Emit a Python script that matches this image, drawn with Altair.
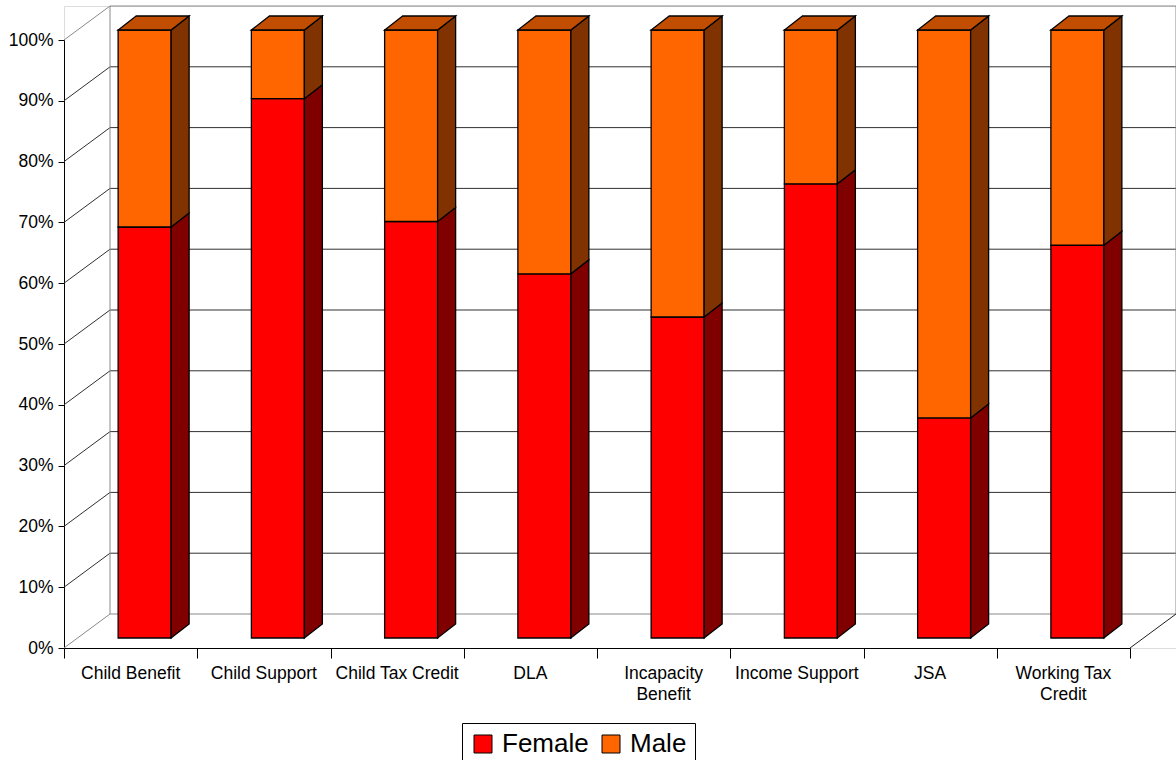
import altair as alt
import pandas as pd

# ---- data -------------------------------------------------------------
categories = ["Child Benefit", "Child Support", "Child Tax Credit", "DLA",
              "Incapacity\nBenefit", "Income Support", "JSA", "Working Tax\nCredit"]
female = [67.6, 88.7, 68.5, 59.9, 52.8, 74.7, 36.2, 64.6]
male = [32.4, 11.3, 31.5, 40.1, 47.2, 25.3, 63.8, 35.4]
series = ["Female", "Male"]
y_ticks = list(range(0, 101, 10))

# ---- styling ----------------------------------------------------------
front_colors = ["#FF0000", "#FF6600"]
side_colors = ["#800000", "#803300"]
top_colors = ["#BF0000", "#C04D00"]
FONT = "Liberation Sans"

# ---- 3-D layout (pixels) -------------------------------------------------
FRONT_W, FRONT_H = 1066, 608      # front plane of the axes
WALL_DX, WALL_DY = 46, 34         # depth of the walls / floor
BAR_DX, BAR_DY = 14, 10           # bar front plane behind the axis plane
BAR_DEPTH_X, BAR_DEPTH_Y = 18, 14 # bar thickness in depth
BAR_W = 53
VIEW_W, VIEW_H = FRONT_W + WALL_DX, FRONT_H + WALL_DY

n = len(categories)
px_x = FRONT_W / n
px_y = FRONT_H / 100.0


def ux(px):
    return px / px_x


def uy(px):
    return px / px_y


xscale = alt.Scale(domain=[0, n], range=[0, FRONT_W], nice=False, zero=False)
yscale = alt.Scale(domain=[0, 100], range=[VIEW_H, VIEW_H - FRONT_H], nice=False, zero=False)

# shared axes, given identically to every layer
x_axis = alt.Axis(values=list(range(n + 1)), labels=False, tickSize=10, title=None,
                  grid=False, domainColor="black", tickColor="black")
y_axis = alt.Axis(values=y_ticks, labelExpr="datum.value + '%'", tickSize=6, title=None,
                  grid=False, domainColor="black", tickColor="black",
                  labelFontSize=17.5, labelFont=FONT, labelColor="black",
                  labelPadding=5)

# ---- walls, floor and gridlines ------------------------------------------
EDGE = "#8a8a8a"
GRID = "#303030"
walls = []
for v in y_ticks:
    col = EDGE if v in (0, 100) else GRID
    # back wall gridline
    walls.append(dict(x=ux(WALL_DX), x2=n + ux(WALL_DX), y=v + uy(WALL_DY), y2=v + uy(WALL_DY), c=col))
    # side wall diagonal
    walls.append(dict(x=0, x2=ux(WALL_DX), y=v, y2=v + uy(WALL_DY), c=col))
walls.append(dict(x=ux(WALL_DX), x2=ux(WALL_DX), y=uy(WALL_DY), y2=100 + uy(WALL_DY), c=EDGE))
walls.append(dict(x=n + ux(WALL_DX), x2=n + ux(WALL_DX), y=uy(WALL_DY), y2=100 + uy(WALL_DY), c=EDGE))
walls.append(dict(x=n, x2=n + ux(WALL_DX), y=0, y2=uy(WALL_DY), c="#202020"))
walls_df = pd.DataFrame(walls)

wall_layer = alt.Chart(walls_df).mark_rule(strokeWidth=1).encode(
    x=alt.X("x:Q", scale=xscale, axis=x_axis),
    x2="x2:Q",
    y=alt.Y("y:Q", scale=yscale, axis=y_axis),
    y2="y2:Q",
    color=alt.Color("c:N", scale=None),
)

# ---- bar faces ----------------------------------------------------------
front_rows, side_rows, top_rows = [], [], []
for i, cat in enumerate(categories):
    centre = i + 0.5
    xl = centre + ux(BAR_DX - BAR_W / 2)
    xr = centre + ux(BAR_DX + BAR_W / 2)
    low = 0.0
    for s, vals in enumerate([female, male]):
        high = low + vals[i]
        seg = f"{i}-{s}"
        front_rows.append(dict(x=xl, x2=xr, y=low + uy(BAR_DY), y2=high + uy(BAR_DY),
                               series=series[s], category=cat.replace("\n", " "), value=vals[i]))
        for d in (0, 1):
            side_rows.append(dict(seg=seg,
                                  x=xr + d * ux(BAR_DEPTH_X),
                                  ylo=low + uy(BAR_DY + d * BAR_DEPTH_Y),
                                  yhi=high + uy(BAR_DY + d * BAR_DEPTH_Y),
                                  fill=side_colors[s]))
        if s == len(series) - 1:
            for d in (0, 1):
                top_rows.append(dict(seg=seg,
                                     y=high + uy(BAR_DY + d * BAR_DEPTH_Y),
                                     xl=xl + d * ux(BAR_DEPTH_X),
                                     xr=xr + d * ux(BAR_DEPTH_X),
                                     fill=top_colors[s]))
        low = high

front_df = pd.DataFrame(front_rows)
side_df = pd.DataFrame(side_rows)
top_df = pd.DataFrame(top_rows)

front_layer = alt.Chart(front_df).mark_rect(stroke="black", strokeWidth=1.3).encode(
    x=alt.X("x:Q", scale=xscale, axis=x_axis),
    x2="x2:Q",
    y=alt.Y("y:Q", scale=yscale, axis=y_axis),
    y2="y2:Q",
    color=alt.Color("series:N", scale=alt.Scale(domain=series, range=front_colors),
                    legend=alt.Legend(orient="none", legendX=398, legendY=717,
                                      direction="horizontal", title=None,
                                      symbolType="square", symbolSize=324,
                                      symbolStrokeColor="black", symbolStrokeWidth=1,
                                      labelFontSize=26, labelFont=FONT, labelColor="black",
                                      labelOffset=6, columnPadding=9, padding=8,
                                      strokeColor="black", fillColor="white")),
)

side_layer = alt.Chart(side_df).mark_area(orient="vertical", stroke="black", strokeWidth=1.3,
                                          interpolate="linear").encode(
    x=alt.X("x:Q", scale=xscale, axis=x_axis),
    y=alt.Y("yhi:Q", scale=yscale, stack=None, axis=y_axis),
    y2="ylo:Q",
    detail="seg:N",
    color=alt.Color("fill:N", scale=None),
)

top_layer = alt.Chart(top_df).mark_area(orient="horizontal", stroke="black", strokeWidth=1.3,
                                        interpolate="linear").encode(
    y=alt.Y("y:Q", scale=yscale, axis=y_axis),
    x=alt.X("xl:Q", scale=xscale, stack=None, axis=x_axis),
    x2="xr:Q",
    detail="seg:N",
    color=alt.Color("fill:N", scale=None),
)

# ---- category labels under the axis --------------------------------------
label_df = pd.DataFrame({"x": [i + 0.5 for i in range(n)], "y": [0] * n, "label": categories})
label_layer = alt.Chart(label_df).mark_text(
    align="center", baseline="top", dy=17, lineBreak="\n", lineHeight=21,
    fontSize=17.5, font=FONT, color="black",
).encode(
    x=alt.X("x:Q", scale=xscale, axis=x_axis),
    y=alt.Y("y:Q", scale=yscale, axis=y_axis),
    text="label:N",
)

chart = alt.layer(wall_layer, front_layer, side_layer, top_layer, label_layer).resolve_scale(
    color="independent"
).properties(
    width=VIEW_W,
    height=VIEW_H,
    padding={"left": 64, "top": 6, "right": 0, "bottom": 112},
    autosize="none",
    background="white",
).configure_view(stroke="transparent").configure(font=FONT)

chart.save("out.html", embed_options={"renderer": "svg", "actions": False})
